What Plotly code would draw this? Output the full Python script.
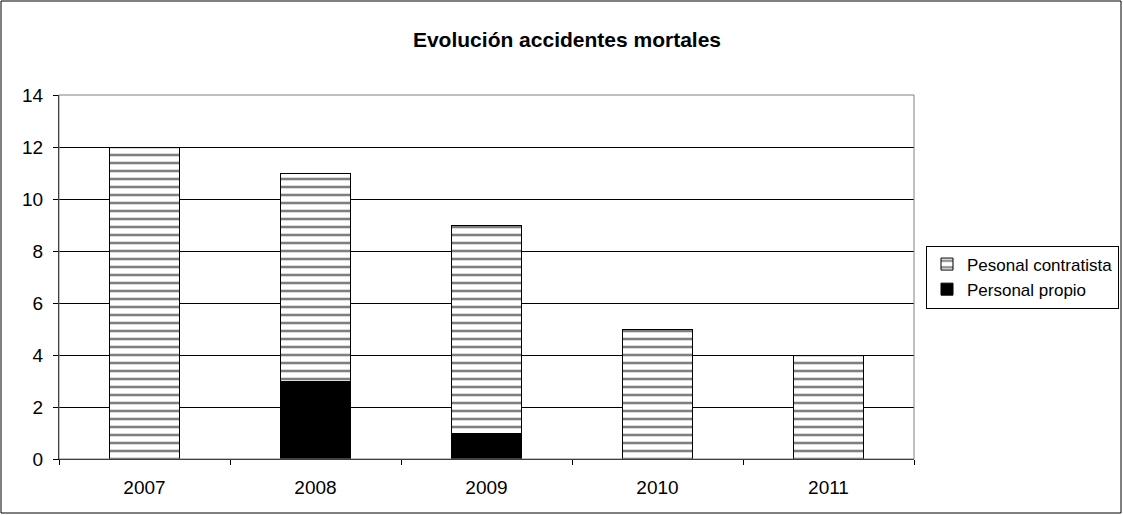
import plotly.graph_objects as go

years = ['2007', '2008', '2009', '2010', '2011']
propio = [0, 3, 1, 0, 0]
contratista = [12, 8, 8, 5, 4]

W, H = 1123, 515
L, T, B = 59, 95, 56
PLOT_RIGHT = 914

fig = go.Figure()

fig.add_trace(go.Bar(x=years, y=propio,
                     name='Personal propio',
                     marker=dict(color='black', line=dict(color='black', width=1))))
fig.add_trace(go.Bar(x=years, y=contratista,
                     name='Pesonal contratista',
                     marker=dict(color='white',
                                 line=dict(color='black', width=1),
                                 pattern=dict(shape='-', fgcolor='black', bgcolor='white',
                                              size=8, solidity=0.32, fillmode='overlay'))))

pw = W - L          # paper width (right margin 0)
ph = H - T - B
dom = (PLOT_RIGHT - L) / pw

# outer chart border
fig.add_shape(type='rect', xref='paper', yref='paper',
              x0=(1 - L) / pw, x1=(W - 2 - L) / pw,
              y0=-(B - 2) / ph, y1=1 + (T - 1) / ph,
              line=dict(color='black', width=1))
# plot area frame
fig.add_shape(type='rect', xref='paper', yref='paper',
              x0=0, x1=dom, y0=0, y1=1, line=dict(color='gray', width=1), layer='above')

fig.update_layout(
    width=W, height=H,
    margin=dict(l=L, r=0, t=T, b=B),
    barmode='stack',
    bargap=0.59,
    paper_bgcolor='white',
    plot_bgcolor='white',
    font=dict(family='Liberation Sans, Arial', size=19, color='black'),
    title=dict(text='<b>Evolución accidentes mortales</b>', x=567 / W, xanchor='center',
               xref='container', y=1 - 40 / H, yanchor='middle', font=dict(size=21)),
    showlegend=True,
    legend=dict(x=(926 - L) / pw, xanchor='left', y=0.5, yanchor='middle',
                traceorder='reversed', bordercolor='black', borderwidth=1,
                font=dict(size=17), itemwidth=30),
    xaxis=dict(domain=[0, dom], showline=True, linecolor='black', linewidth=1,
               ticks='outside', tickson='boundaries', ticklen=5, tickcolor='black',
               ticklabelstandoff=11),
    yaxis=dict(range=[0, 14], dtick=2, showgrid=True, gridcolor='black', gridwidth=1,
               showline=True, linecolor='black', linewidth=1, ticks='outside',
               ticklen=5, tickcolor='black', zeroline=False, ticklabelstandoff=6),
)

fig.write_html('out.html', config={'displayModeBar': False},
               post_script="document.body.style.margin='0';")
